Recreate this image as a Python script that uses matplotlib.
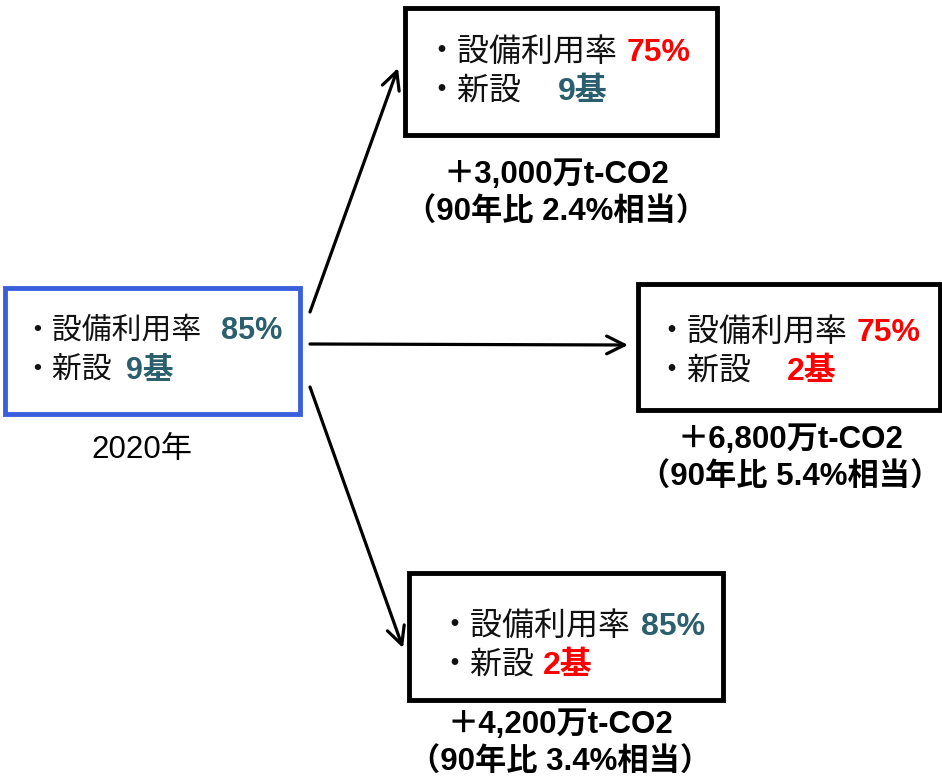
import matplotlib.pyplot as plt
from matplotlib.patches import Rectangle

plt.rcParams['font.family'] = ['Liberation Sans', 'Noto Sans CJK JP', 'DejaVu Sans']

TEAL = "#2b5f6e"
RED = "#ff0000"

# シナリオごとの表示内容 (0: 2020年, 1-3: 将来ケース)
rate_labels = ["・設備利用率", "・設備利用率", "・設備利用率", "・設備利用率"]
rate_values = ["85%", "75%", "75%", "85%"]
rate_colors = [TEAL, RED, RED, TEAL]
new_labels = ["・新設", "・新設", "・新設", "・新設"]
new_values = ["9基", "9基", "2基", "2基"]
new_colors = [TEAL, TEAL, RED, RED]
co2_lines = [None, "＋3,000万t-CO2", "＋6,800万t-CO2", "＋4,200万t-CO2"]
ratio_lines = [None, "（90年比 2.4%相当）", "（90年比 5.4%相当）", "（90年比 3.4%相当）"]
base_caption = "2020年"

# 枠の配置 (x, y, 幅, 高さ) と枠線の色
boxes = [(5, 288, 295, 126), (405, 8, 312, 127), (638, 284, 302, 126), (409, 573, 314, 127)]
edge_colors = ["#3a5fdc", "black", "black", "black"]
label_fs = [21.5, 23, 23, 23]
value_fs = [22, 23, 23, 23]
text_x = [22, 425, 655, 438]
line_y = [331, 53, 333, 627]
line_gap = 39
rate_gap = [20, 10, 10, 11]   # 項目名と数値の間隔 (px)
new_gap = [14, 37, 36, 9]
caption_x = [142, 556, 790, 560]
caption_y = [450, 175, 440, 725]
caption_gap = 38
CAP_FS = 22.5

# 矢印 (始点, 終点)
arrows = [((310, 312), (398, 68)), ((310, 344), (628, 345)), ((310, 387), (403, 648))]

fig = plt.figure(figsize=(9.42, 7.81), dpi=100)
ax = fig.add_axes([0, 0, 1, 1])
ax.set_xlim(0, 942)
ax.set_ylim(781, 0)
ax.axis("off")

for i, (x, y, w, h) in enumerate(boxes):
    ax.add_patch(Rectangle((x, y), w, h, fill=False, edgecolor=edge_colors[i], lw=3.5))
    rows = [(rate_labels[i], rate_values[i], rate_colors[i], rate_gap[i]),
            (new_labels[i], new_values[i], new_colors[i], new_gap[i])]
    for row, (lab, val, col, gap) in enumerate(rows):
        ty = line_y[i] + row * line_gap
        t = ax.text(text_x[i], ty, lab, fontsize=label_fs[i], va="center", ha="left",
                    color="#111111")
        ax.annotate(val, xy=(1, 0.5), xycoords=t, xytext=(gap, 0), textcoords="offset pixels",
                    va="center", ha="left", fontsize=value_fs[i], fontweight="bold", color=col)
    if co2_lines[i] is None:
        ax.text(caption_x[i], caption_y[i], base_caption, fontsize=22.5, ha="center", va="center")
    else:
        ax.text(caption_x[i], caption_y[i], co2_lines[i], fontsize=CAP_FS, fontweight="bold",
                ha="center", va="center")
        ax.text(caption_x[i], caption_y[i] + caption_gap, ratio_lines[i], fontsize=CAP_FS,
                fontweight="bold", ha="center", va="center")

for start, end in arrows:
    ax.annotate("", xy=end, xytext=start,
                arrowprops=dict(arrowstyle="->", lw=2.3, color="black", mutation_scale=32,
                                shrinkA=0, shrinkB=0))

fig.savefig("out.png", dpi=100)
